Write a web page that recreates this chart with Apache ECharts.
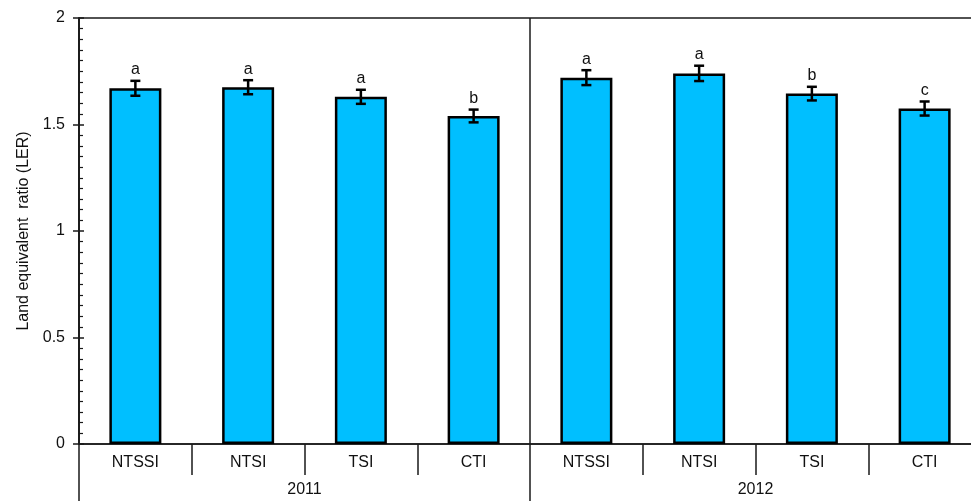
<!DOCTYPE html>
<html>
<head>
<meta charset="utf-8">
<script src="https://cdn.jsdelivr.net/npm/echarts@6/dist/echarts.min.js"></script>
<style>
  html, body { margin: 0; padding: 0; background: #fff; overflow: hidden; width: 971px; height: 501px; }
  /* the plot runs past the right edge of the page */
  #chart { width: 1000px; height: 501px; }
</style>
</head>
<body>
<div id="chart"></div>
<script>
// Treatments and seasons
var treatments = ['NTSSI', 'NTSI', 'TSI', 'CTI'];
var years = ['2011', '2012'];

// Land equivalent ratio per treatment, per year
var ler2011 = [1.67, 1.675, 1.63, 1.54];
var ler2012 = [1.72, 1.74, 1.645, 1.575];

// Standard errors
var se2011 = [0.035, 0.033, 0.033, 0.030];
var se2012 = [0.035, 0.036, 0.032, 0.033];

// Significance letters
var sig2011 = ['a', 'a', 'a', 'b'];
var sig2012 = ['a', 'a', 'b', 'c'];

var yTicks = [0, 0.5, 1, 1.5, 2];

// Flatten into one row per bar
var keys = [], values = [], errs = [], letters = [];
years.forEach(function (y, yi) {
  var v = yi === 0 ? ler2011 : ler2012;
  var e = yi === 0 ? se2011 : se2012;
  var s = yi === 0 ? sig2011 : sig2012;
  treatments.forEach(function (t, i) {
    keys.push(y + '|' + t);
    values.push(v[i]);
    errs.push(e[i]);
    letters.push(s[i]);
  });
});

var errData = keys.map(function (k, i) {
  return [i, values[i] - errs[i], values[i] + errs[i], letters[i]];
});

var FONT = 'Liberation Sans, Arial, sans-serif';
var AXIS_COLOR = '#1a1a1a';

var chart = echarts.init(document.getElementById('chart'), null, { renderer: 'canvas' });

chart.setOption({
  backgroundColor: '#fff',
  animation: false,
  grid: {
    left: 79, top: 18, width: 902, height: 426,
    show: true, borderColor: AXIS_COLOR, borderWidth: 1.5, backgroundColor: 'transparent'
  },
  xAxis: [
    {
      type: 'category',
      position: 'bottom',
      data: keys,
      boundaryGap: true,
      axisLine: { show: true, lineStyle: { color: AXIS_COLOR, width: 1.5 } },
      axisTick: { show: true, interval: 0, length: 31, lineStyle: { color: AXIS_COLOR, width: 1.5 } },
      axisLabel: {
        interval: 0, margin: 11, color: '#111', fontFamily: FONT, fontSize: 16,
        formatter: function (v) { return v.split('|')[1]; }
      },
      splitLine: { show: false }
    },
    {
      type: 'category',
      position: 'bottom',
      data: years,
      boundaryGap: true,
      axisLine: { show: false },
      axisTick: { show: true, interval: 0, length: 58, lineStyle: { color: AXIS_COLOR, width: 1.5 } },
      axisLabel: { interval: 0, margin: 38, color: '#111', fontFamily: FONT, fontSize: 16 },
      splitLine: { show: true, interval: 0, lineStyle: { color: AXIS_COLOR, width: 1.5 } }
    }
  ],
  yAxis: [
    {
      type: 'value',
      min: yTicks[0], max: yTicks[yTicks.length - 1], interval: 0.5,
      name: 'Land equivalent  ratio (LER)',
      nameLocation: 'middle',
      nameGap: 47,
      nameTextStyle: { color: '#111', fontFamily: FONT, fontSize: 16 },
      axisLine: { show: true, lineStyle: { color: AXIS_COLOR, width: 1.5 } },
      axisTick: { show: true, length: 6, lineStyle: { color: AXIS_COLOR, width: 1.5 } },
      axisLabel: {
        margin: 14, color: '#111', fontFamily: FONT, fontSize: 16,
        formatter: function (v) { return String(v); }
      },
      splitLine: { show: false }
    },
    {
      type: 'value',
      position: 'left',
      min: yTicks[0], max: yTicks[yTicks.length - 1], interval: 0.5,
      axisLine: { show: false },
      axisTick: { show: true, inside: true, length: 5, lineStyle: { color: AXIS_COLOR, width: 1.5 } },
      minorTick: { show: true, splitNumber: 10, length: 4, lineStyle: { color: AXIS_COLOR, width: 1.2 } },
      axisLabel: { show: false },
      splitLine: { show: false }
    }
  ],
  series: [
    {
      type: 'bar',
      xAxisIndex: 0,
      yAxisIndex: 0,
      data: values,
      barWidth: 52,
      itemStyle: { color: '#00bfff', borderColor: '#000', borderWidth: 2.5 }
    },
    {
      type: 'custom',
      xAxisIndex: 0,
      yAxisIndex: 0,
      data: errData,
      z: 5,
      renderItem: function (params, api) {
        var x = api.coord([api.value(0), 0])[0];
        var lo = api.coord([api.value(0), api.value(1)])[1];
        var hi = api.coord([api.value(0), api.value(2)])[1];
        var half = 5;
        var style = { stroke: '#000', lineWidth: 2.5 };
        return {
          type: 'group',
          children: [
            { type: 'line', shape: { x1: x, y1: lo, x2: x, y2: hi }, style: style },
            { type: 'line', shape: { x1: x - half, y1: lo, x2: x + half, y2: lo }, style: style },
            { type: 'line', shape: { x1: x - half, y1: hi, x2: x + half, y2: hi }, style: style },
            {
              type: 'text',
              style: {
                x: x, y: hi - 3, text: api.value(3),
                textAlign: 'center', textVerticalAlign: 'bottom',
                fill: '#111', font: '16px ' + FONT
              }
            }
          ]
        };
      }
    }
  ]
});
</script>
</body>
</html>
